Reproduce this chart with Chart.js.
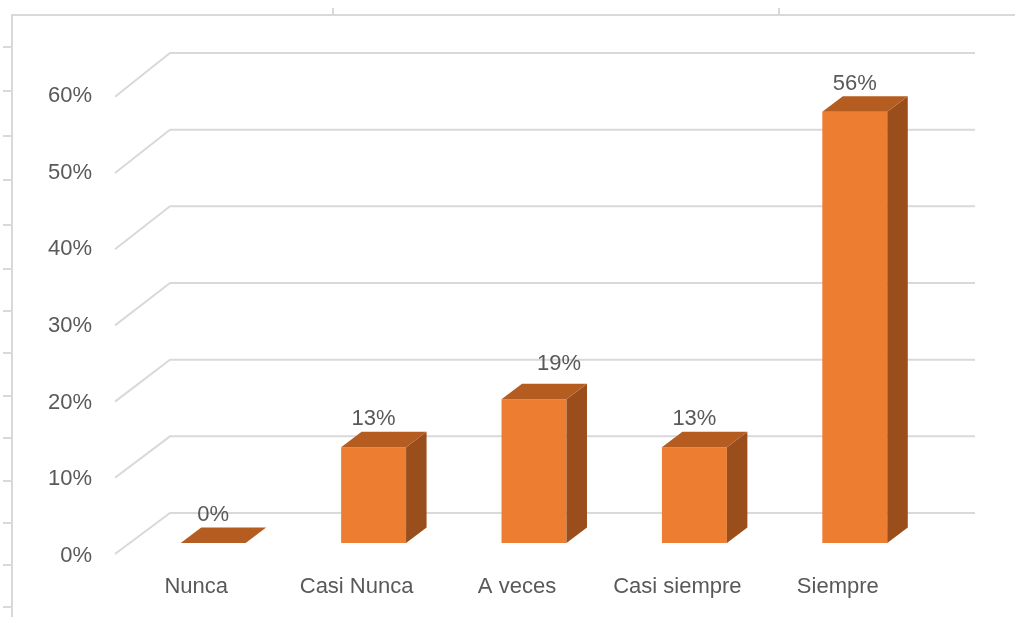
<!DOCTYPE html>
<html>
<head>
<meta charset="utf-8">
<script src="https://cdn.jsdelivr.net/npm/chart.js@4/dist/chart.umd.min.js"></script>
<style>
  html, body { margin: 0; padding: 0; background: #ffffff; }
  #wrap { width: 1015px; height: 617px; position: relative; }
</style>
</head>
<body>
<div id="wrap"><canvas id="c" width="1015" height="617"></canvas></div>
<script>
// ---- data ----
const categories = ['Nunca', 'Casi Nunca', 'A veces', 'Casi siempre', 'Siempre'];
const shares = [0, 0.125, 0.1875, 0.125, 0.5625];
const yTickValues = [0, 0.1, 0.2, 0.3, 0.4, 0.5, 0.6];

const FRONT = '#ED7D31';
const TOP = '#B55C21';
const SIDE = '#9A4E1C';
const GRID = '#D9D9D9';
const TEXT = '#595959';
const FONT = '"Liberation Sans", Arial, sans-serif';

// label nudges as placed in the original (index -> [dx, dy])
const labelNudge = { 2: [25, -7] };

const pct = v => Math.round(v * 100) + '%';

// 3D wall + gridlines, drawn from the value scale
const wallPlugin = {
  id: 'wall',
  beforeDatasetsDraw(chart) {
    const { ctx, chartArea, scales } = chart;
    const y = scales.y;
    const frontX = chartArea.left - 18;
    const backX = chartArea.left + 37;
    const rightX = chartArea.right + 40;
    const base = y.getPixelForValue(0);
    ctx.save();
    ctx.strokeStyle = GRID;
    ctx.lineWidth = 2;
    yTickValues.forEach(v => {
      const p = y.getPixelForValue(v);
      const back = p - 30;
      const front = p + 11 + (base - p) * 0.006;
      ctx.beginPath();
      ctx.moveTo(frontX, front);
      ctx.lineTo(backX, back);
      ctx.lineTo(rightX, back);
      ctx.stroke();
    });
    ctx.restore();
  }
};

// Top and side faces of each bar + value labels
const depthPlugin = {
  id: 'depth',
  afterDatasetsDraw(chart) {
    const { ctx } = chart;
    const meta = chart.getDatasetMeta(0);
    const dx = 20.5, dy = -15.5;
    ctx.save();
    meta.data.forEach((bar, i) => {
      const { x, y, base, width } = bar.getProps(['x', 'y', 'base', 'width'], true);
      const x1 = x - width / 2, x2 = x + width / 2;
      if (base - y > 0.5) {
        ctx.fillStyle = SIDE;
        ctx.beginPath();
        ctx.moveTo(x2, y);
        ctx.lineTo(x2 + dx, y + dy);
        ctx.lineTo(x2 + dx, base + dy);
        ctx.lineTo(x2, base);
        ctx.closePath();
        ctx.fill();
      }
      ctx.fillStyle = TOP;
      ctx.beginPath();
      ctx.moveTo(x1, y);
      ctx.lineTo(x2, y);
      ctx.lineTo(x2 + dx, y + dy);
      ctx.lineTo(x1 + dx, y + dy);
      ctx.closePath();
      ctx.fill();
      const n = labelNudge[i] || [0, 0];
      ctx.fillStyle = TEXT;
      ctx.font = '22px ' + FONT;
      ctx.textAlign = 'center';
      ctx.textBaseline = 'middle';
      ctx.fillText(pct(shares[i]), x + n[0], y - 28 + n[1]);
    });
    ctx.restore();
  },
  afterDraw(chart) {
    const { ctx } = chart;
    ctx.save();
    ctx.strokeStyle = GRID;
    ctx.lineWidth = 2;
    ctx.beginPath();
    ctx.moveTo(12, 617);
    ctx.lineTo(12, 15);
    ctx.lineTo(1015, 15);
    ctx.stroke();
    [47, 91, 136, 180, 225, 269, 311, 353, 396, 438, 481, 523, 565, 607].forEach(t => {
      ctx.beginPath(); ctx.moveTo(3, t); ctx.lineTo(12, t); ctx.stroke();
    });
    [333, 779].forEach(t => {
      ctx.beginPath(); ctx.moveTo(t, 8); ctx.lineTo(t, 15); ctx.stroke();
    });
    ctx.restore();
  }
};

new Chart(document.getElementById('c'), {
  type: 'bar',
  data: {
    labels: categories,
    datasets: [{
      data: shares,
      backgroundColor: FRONT,
      borderWidth: 0,
      barPercentage: 0.405,
      categoryPercentage: 1
    }]
  },
  options: {
    responsive: false,
    animation: false,
    events: [],
    layout: { padding: { top: 83, right: 80, left: 0, bottom: 0 } },
    plugins: { legend: { display: false }, tooltip: { enabled: false } },
    scales: {
      x: {
        grid: { display: false, drawTicks: false },
        border: { display: false },
        ticks: { color: TEXT, font: { family: FONT, size: 22 }, padding: 31, labelOffset: -17, maxRotation: 0 },
        afterFit(s) { s.height = 74; }
      },
      y: {
        min: 0, max: 0.6,
        grid: { display: false, drawTicks: false },
        border: { display: false },
        ticks: {
          stepSize: 0.1, color: TEXT, font: { family: FONT, size: 22 },
          padding: 41, labelOffset: 13,
          callback: v => pct(v)
        },
        afterFit(s) { s.width = 133; }
      }
    }
  },
  plugins: [wallPlugin, depthPlugin]
});
</script>
</body>
</html>
